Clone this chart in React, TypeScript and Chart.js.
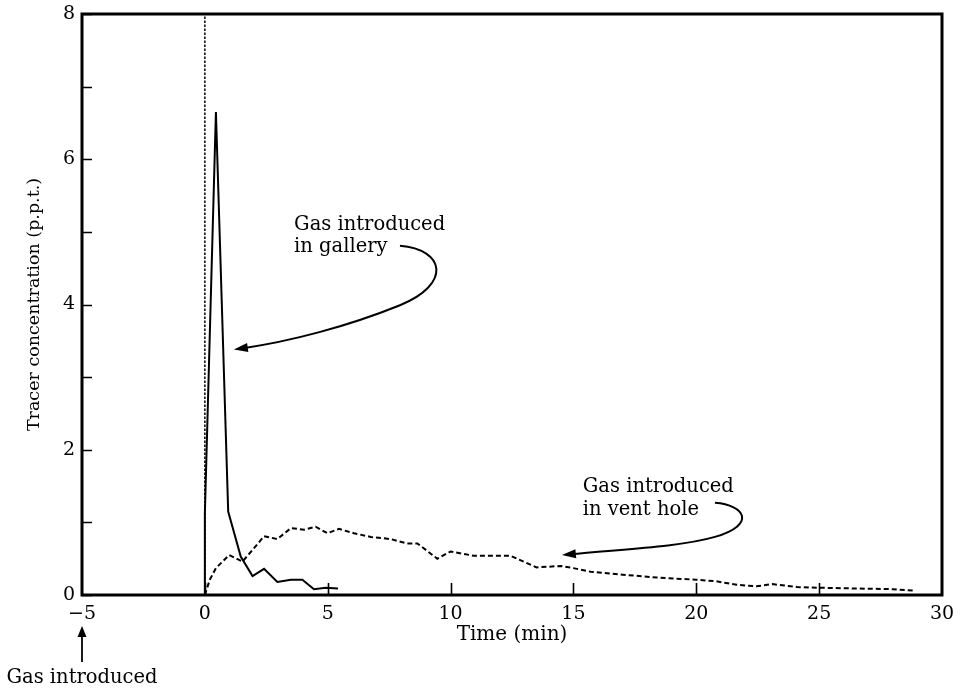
import React, { useEffect, useRef } from "react";
import { Chart, registerables } from "chart.js";

Chart.register(...registerables);

// ---- data ----
const galleryTime = [0, 0, 0.45, 0.95, 1.46, 1.94, 2.41, 2.95, 3.5, 3.97, 4.44, 4.92, 5.42];
const galleryConc = [0, 1.12, 6.65, 1.15, 0.53, 0.26, 0.36, 0.18, 0.21, 0.21, 0.08, 0.1, 0.09];

const ventTime = [0, 0.2, 0.45, 0.99, 1.53, 1.94, 2.41, 2.95, 3.5, 4.04, 4.51, 4.99, 5.46, 6.07, 6.75, 7.56, 8.24, 8.65, 9.46, 10.0, 10.95, 12.44, 13.5, 14.5, 15.0, 15.7, 17.0, 18.4, 20.0, 20.8, 21.65, 22.45, 23.1, 24.1, 25.0, 26.5, 28.0, 28.9];
const ventConc = [0, 0.21, 0.37, 0.55, 0.46, 0.62, 0.81, 0.77, 0.92, 0.9, 0.94, 0.85, 0.91, 0.85, 0.8, 0.77, 0.71, 0.71, 0.5, 0.6, 0.54, 0.54, 0.38, 0.4, 0.37, 0.32, 0.28, 0.24, 0.21, 0.19, 0.14, 0.12, 0.15, 0.11, 0.1, 0.09, 0.08, 0.06];

const zeroLineTime = [0, 0];
const zeroLineConc = [0, 8];

const xTicks = [-5, 0, 5, 10, 15, 20, 25, 30];
const yTicks = [0, 1, 2, 3, 4, 5, 6, 7, 8];
const yLabelled = [0, 2, 4, 6, 8];

const galleryLabel = ["Gas introduced", "in gallery"];
const ventLabel = ["Gas introduced", "in vent hole"];
const startLabel = "Gas introduced";

// annotation anchors in data units
const galleryLabelPos = [3.63, 5.02];
const ventLabelPos = [15.38, 1.42];
// two joined cubic curves: start, c1, c2, mid, c3, c4, tip
const galleryArrow = [[7.94, 4.81], [9.77, 4.76], [10.06, 4.28], [7.94, 3.99], [5.82, 3.7], [3.46, 3.49], [1.18, 3.38]];
const ventArrow = [[20.76, 1.27], [21.98, 1.24], [22.47, 0.97], [20.76, 0.8], [19.33, 0.66], [16.89, 0.63], [14.53, 0.55]];

const FONT = "'DejaVu Serif', 'Liberation Serif', serif";

function toPts(xs: number[], ys: number[]) {
  return xs.map((x, i) => ({ x, y: ys[i] }));
}

function arrowHead(ctx: CanvasRenderingContext2D, fx: number, fy: number, tx: number, ty: number, len: number, half: number) {
  const a = Math.atan2(ty - fy, tx - fx);
  ctx.beginPath();
  ctx.moveTo(tx, ty);
  ctx.lineTo(tx - len * Math.cos(a) + half * Math.sin(a), ty - len * Math.sin(a) - half * Math.cos(a));
  ctx.lineTo(tx - len * Math.cos(a) - half * Math.sin(a), ty - len * Math.sin(a) + half * Math.cos(a));
  ctx.closePath();
  ctx.fill();
}

const decorPlugin = {
  id: "decor",
  afterDatasetsDraw(chart: any) {
    const ctx: CanvasRenderingContext2D = chart.ctx;
    const xs = chart.scales.x;
    const ys = chart.scales.y;
    const { left, right, top, bottom } = chart.chartArea;
    ctx.save();
    ctx.strokeStyle = "#000";
    ctx.fillStyle = "#000";

    // inward ticks
    ctx.lineWidth = 1.6;
    ctx.beginPath();
    yTicks.forEach((v) => {
      const py = Math.round(ys.getPixelForValue(v)) + 0.5;
      ctx.moveTo(left, py);
      ctx.lineTo(left + 10, py);
    });
    xTicks.forEach((v) => {
      if (v <= -5 || v >= 30) return;
      const px = Math.round(xs.getPixelForValue(v)) + 0.5;
      ctx.moveTo(px, bottom);
      ctx.lineTo(px, bottom - 12);
    });
    ctx.stroke();

    // frame
    ctx.lineWidth = 3;
    ctx.strokeRect(left, top, right - left, bottom - top);

    // annotation text
    ctx.font = `19.5px ${FONT}`;
    ctx.textAlign = "left";
    ctx.textBaseline = "alphabetic";
    const gx = xs.getPixelForValue(galleryLabelPos[0]);
    const gy = ys.getPixelForValue(galleryLabelPos[1]);
    galleryLabel.forEach((t, i) => ctx.fillText(t, gx, gy + i * 21.5));
    const vx = xs.getPixelForValue(ventLabelPos[0]);
    const vy = ys.getPixelForValue(ventLabelPos[1]);
    ventLabel.forEach((t, i) => ctx.fillText(t, vx, vy + i * 23));

    // curved arrows
    const drawArrow = (pts: number[][]) => {
      const p = pts.map(([a, b]) => [xs.getPixelForValue(a), ys.getPixelForValue(b)]);
      const tip = p[6];
      const prev = p[5];
      const a = Math.atan2(tip[1] - prev[1], tip[0] - prev[0]);
      ctx.lineWidth = 2;
      ctx.beginPath();
      ctx.moveTo(p[0][0], p[0][1]);
      ctx.bezierCurveTo(p[1][0], p[1][1], p[2][0], p[2][1], p[3][0], p[3][1]);
      ctx.bezierCurveTo(p[4][0], p[4][1], p[5][0], p[5][1], tip[0] - 8 * Math.cos(a), tip[1] - 8 * Math.sin(a));
      ctx.stroke();
      arrowHead(ctx, prev[0], prev[1], tip[0], tip[1], 14, 4.5);
    };
    drawArrow(galleryArrow);
    drawArrow(ventArrow);

    // start marker below x = -5
    const sx = xs.getPixelForValue(-5);
    ctx.lineWidth = 1.8;
    ctx.beginPath();
    ctx.moveTo(sx, bottom + 67);
    ctx.lineTo(sx, bottom + 38);
    ctx.stroke();
    arrowHead(ctx, sx, bottom + 60, sx, bottom + 31, 11, 4.5);
    ctx.textAlign = "center";
    ctx.font = `19.5px ${FONT}`;
    ctx.fillText(startLabel, sx, bottom + 88);

    ctx.restore();
  },
};

export default function App() {
  const ref = useRef<HTMLCanvasElement | null>(null);
  useEffect(() => {
    if (!ref.current) return;
    const chart = new Chart(ref.current, {
      type: "scatter",
      data: {
        datasets: [
          {
            label: "zero",
            data: toPts(zeroLineTime, zeroLineConc),
            showLine: true,
            borderColor: "#000",
            borderWidth: 1.5,
            borderDash: [2.5, 1.5],
            pointRadius: 0,
          },
          {
            label: "Gas introduced in gallery",
            data: toPts(galleryTime, galleryConc),
            showLine: true,
            borderColor: "#000",
            borderWidth: 2,
            pointRadius: 0,
            tension: 0,
          },
          {
            label: "Gas introduced in vent hole",
            data: toPts(ventTime, ventConc),
            showLine: true,
            borderColor: "#000",
            borderWidth: 2,
            borderDash: [5, 3],
            pointRadius: 0,
            tension: 0,
          },
        ],
      },
      options: {
        animation: false,
        responsive: false,
        devicePixelRatio: 1,
        layout: { padding: { top: 14, right: 23, left: 0, bottom: 0 } },
        plugins: { legend: { display: false }, tooltip: { enabled: false } },
        scales: {
          x: {
            type: "linear",
            min: -5,
            max: 30,
            border: { display: false },
            grid: { display: false, drawTicks: false },
            afterBuildTicks: (s: any) => {
              s.ticks = xTicks.map((v) => ({ value: v }));
            },
            afterFit: (s: any) => {
              s.height = 96;
            },
            ticks: {
              autoSkip: false,
              maxRotation: 0,
              padding: 8,
              color: "#000",
              font: { family: FONT, size: 19 },
              callback: (v: any) => (Number(v) < 0 ? "\u2212" + Math.abs(Number(v)) : String(v)),
            },
            title: {
              display: true,
              text: "Time (min)",
              color: "#000",
              font: { family: FONT, size: 20 },
              padding: { top: 0, bottom: 44 },
            },
          },
          y: {
            type: "linear",
            min: 0,
            max: 8,
            border: { display: false },
            grid: { display: false, drawTicks: false },
            afterBuildTicks: (s: any) => {
              s.ticks = yTicks.map((v) => ({ value: v }));
            },
            afterFit: (s: any) => {
              s.width = 82;
              s.paddingTop = 0;
              s.paddingBottom = 0;
            },
            ticks: {
              autoSkip: false,
              padding: 7,
              color: "#000",
              font: { family: FONT, size: 19 },
              callback: (v: any) => (yLabelled.includes(Number(v)) ? String(v) : ""),
            },
            title: {
              display: true,
              text: "Tracer concentration (p.p.t.)",
              color: "#000",
              font: { family: FONT, size: 17.5 },
              padding: { top: 24, bottom: 0 },
            },
          },
        },
      },
      plugins: [decorPlugin],
    });
    return () => chart.destroy();
  }, []);
  return (
    <div style={{ position: "absolute", left: 0, top: 0, width: 965, height: 691, background: "#fff" }}>
      <canvas ref={ref} width={965} height={691} />
    </div>
  );
}
